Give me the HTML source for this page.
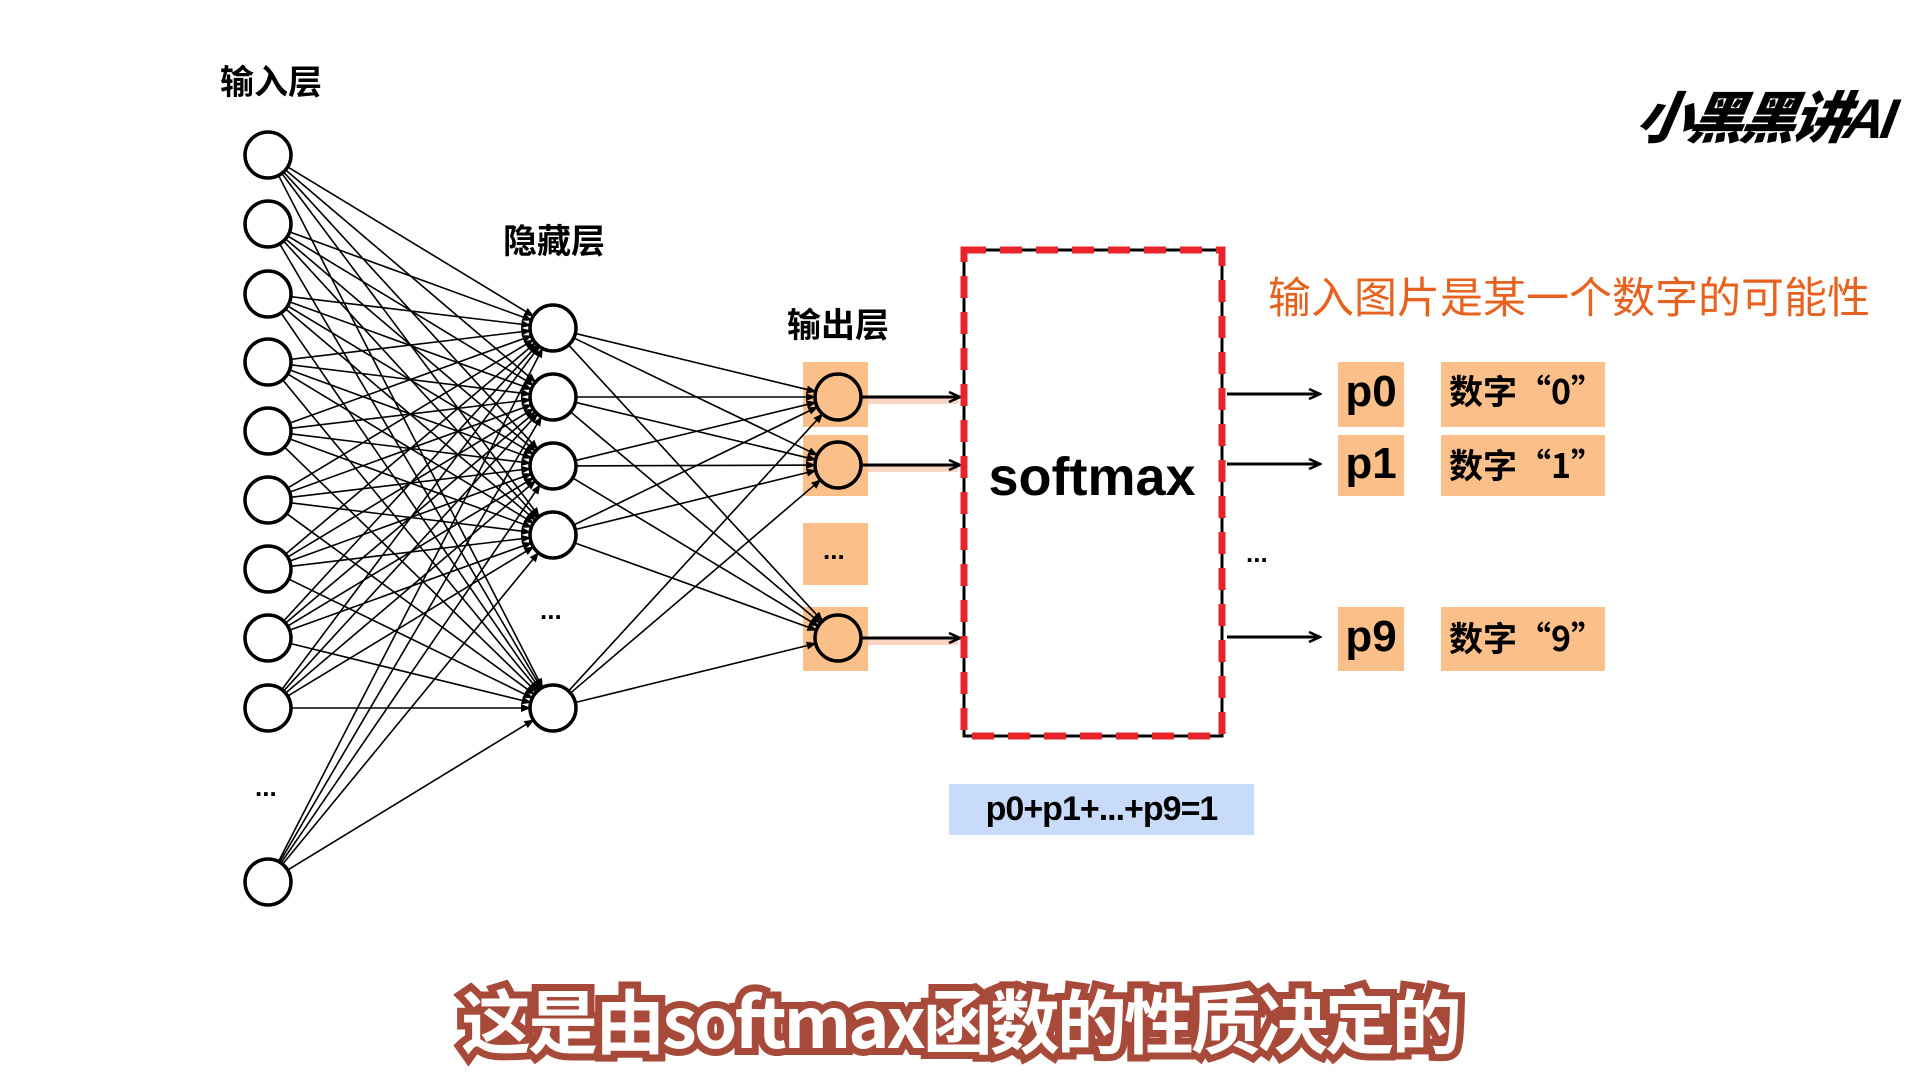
<!DOCTYPE html>
<html><head><meta charset="utf-8"><style>
body{margin:0;width:1920px;height:1080px;background:#fff;overflow:hidden;font-family:"Liberation Sans","Noto Sans CJK SC",sans-serif}
.a{position:absolute}
.q{font-family:"Noto Sans CJK SC",sans-serif}
</style></head><body>
<svg class="a" style="left:0;top:0" width="1920" height="1080">
<defs>
<marker id="m" markerWidth="10" markerHeight="8" refX="9" refY="4" orient="auto" markerUnits="userSpaceOnUse"><path d="M0,0 L10,4 L0,8 z" fill="#000"/></marker>
<marker id="m2" markerWidth="14" markerHeight="12" refX="12" refY="6" orient="auto" markerUnits="userSpaceOnUse"><path d="M1,1 L12,6 L1,11" fill="none" stroke="#000" stroke-width="2.5"/></marker>
</defs>
<g fill="#fbc08a">
<rect x="803" y="362" width="65" height="65"/><rect x="803" y="435" width="65" height="61"/><rect x="803" y="523" width="65" height="62"/><rect x="803" y="607" width="65" height="64"/>
</g>
<g id="lines" stroke="#000" stroke-width="1.6" fill="none"></g>
<g stroke="#f9d5c4" stroke-width="8"><line x1="868" y1="400" x2="958" y2="400"/><line x1="868" y1="468" x2="958" y2="468"/><line x1="868" y1="641" x2="958" y2="641"/></g>
<g stroke="#000" stroke-width="3" marker-end="url(#m2)">
<line x1="862" y1="397" x2="960" y2="397"/><line x1="862" y1="465" x2="960" y2="465"/><line x1="862" y1="638" x2="960" y2="638"/>
<line x1="1227" y1="394" x2="1320" y2="394"/><line x1="1227" y1="464" x2="1320" y2="464"/><line x1="1227" y1="637" x2="1320" y2="637"/>
</g>
<rect x="964" y="250" width="258" height="486" fill="none" stroke="#000" stroke-width="3"/>
<rect x="964" y="250" width="258" height="486" fill="none" stroke="#e8232a" stroke-width="7" stroke-dasharray="22 14"/>
<g id="nodes" stroke="#000" stroke-width="3.5"></g>
</svg>
<div class="a" style="left:220px;top:55px;font-size:34px;font-weight:bold">输入层</div>
<div class="a" style="left:503px;top:214px;font-size:34px;font-weight:bold">隐藏层</div>
<div class="a" style="left:787px;top:298px;font-size:34px;font-weight:bold">输出层</div>
<div class="a" style="left:540px;top:595px;font-size:26px;font-weight:bold">...</div>
<div class="a" style="left:255px;top:772px;font-size:26px;font-weight:bold">...</div>
<div class="a" style="left:823px;top:535px;font-size:26px;font-weight:bold">...</div>
<div class="a" style="left:1246px;top:538px;font-size:26px;font-weight:bold">...</div>
<div class="a" style="left:962px;top:446px;width:260px;text-align:center;font-size:54px;font-weight:bold">softmax</div>
<div class="a" style="left:1268px;top:264px;font-size:43px;color:#e8621f">输入图片是某一个数字的可能性</div>
<div class="a" style="left:1338px;top:362px;width:66px;height:65px;background:#fbc08a;font-size:44px;font-weight:bold;text-align:center;line-height:60px">p0</div>
<div class="a" style="left:1338px;top:435px;width:66px;height:61px;background:#fbc08a;font-size:44px;font-weight:bold;text-align:center;line-height:58px">p1</div>
<div class="a" style="left:1338px;top:607px;width:66px;height:64px;background:#fbc08a;font-size:44px;font-weight:bold;text-align:center;line-height:60px">p9</div>
<div class="a q" style="left:1441px;top:362px;width:164px;height:65px;background:#fbc08a;font-size:34px;font-weight:bold;padding-left:8px;box-sizing:border-box;line-height:56px">数字“0”</div>
<div class="a q" style="left:1441px;top:435px;width:164px;height:61px;background:#fbc08a;font-size:34px;font-weight:bold;padding-left:8px;box-sizing:border-box;line-height:58px">数字“1”</div>
<div class="a q" style="left:1441px;top:607px;width:164px;height:64px;background:#fbc08a;font-size:34px;font-weight:bold;padding-left:8px;box-sizing:border-box;line-height:60px">数字“9”</div>
<div class="a" style="left:949px;top:784px;width:305px;height:51px;background:#c9dbfa;font-size:34px;font-weight:bold;text-align:center;line-height:51px;letter-spacing:-1px">p0+p1+...+p9=1</div>
<div class="a" style="left:1638px;top:74px;font-size:56px;font-weight:900;font-style:italic;letter-spacing:-4px;transform:skewX(-10deg)">小黑黑讲AI</div>
<div class="a q" style="left:400px;top:968px;width:1120px;text-align:center;font-size:70px;font-weight:bold;color:#fff;-webkit-text-stroke:14px #a84a3a;paint-order:stroke fill;white-space:nowrap;letter-spacing:-3px">这是由softmax函数的性质决定的</div>
<script>
var ns="http://www.w3.org/2000/svg";
var I=[155,224,294,362,431,500,569,638,708,882],H=[328,397,466,535,708],O=[397,465,638];
var ix=268,hx=553,ox=838,r=23;
var L=document.getElementById("lines"),N=document.getElementById("nodes");
function ln(x1,y1,x2,y2){var dx=x2-x1,dy=y2-y1,d=Math.hypot(dx,dy);var l=document.createElementNS(ns,"line");
l.setAttribute("x1",x1+dx/d*r);l.setAttribute("y1",y1+dy/d*r);l.setAttribute("x2",x2-dx/d*r);l.setAttribute("y2",y2-dy/d*r);l.setAttribute("marker-end","url(#m)");L.appendChild(l);}
I.forEach(function(a){H.forEach(function(b){ln(ix,a,hx,b)})});
H.forEach(function(a){O.forEach(function(b){ln(hx,a,ox,b)})});
function c(x,y,f){var e=document.createElementNS(ns,"circle");e.setAttribute("cx",x);e.setAttribute("cy",y);e.setAttribute("r",r);e.setAttribute("fill",f);N.appendChild(e);}
I.forEach(function(y){c(ix,y,"#fff")});H.forEach(function(y){c(hx,y,"#fff")});O.forEach(function(y){c(ox,y,"#fbc08a")});
</script>
</body></html>
